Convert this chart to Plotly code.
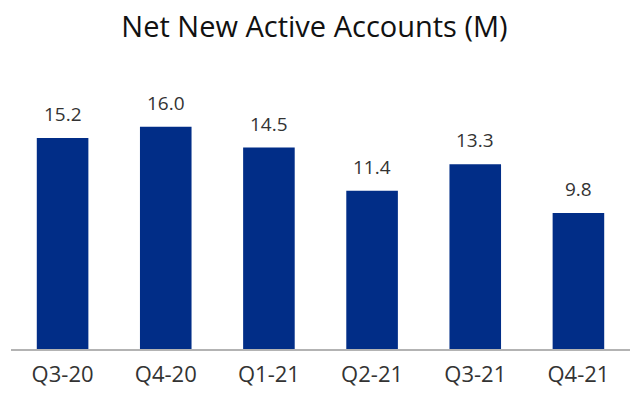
import plotly.graph_objects as go

quarters = ["Q3-20", "Q4-20", "Q1-21", "Q2-21", "Q3-21", "Q4-21"]
accounts = [15.2, 16.0, 14.5, 11.4, 13.3, 9.8]
labels = ["15.2", "16.0", "14.5", "11.4", "13.3", "9.8"]

fig = go.Figure()
fig.add_trace(go.Bar(
    x=quarters, y=accounts,
    marker=dict(color="#012d87", line=dict(width=0)),
    hoverinfo="skip",
))

for q, v, t in zip(quarters, accounts, labels):
    fig.add_annotation(x=q, y=v, text=t, showarrow=False, yanchor="bottom",
                       yshift=9, font=dict(size=19, color="#333333", family="Open Sans"))

# page body has an 8px margin, so the figure is sized to the visible area
fig.update_layout(
    width=632, height=389,
    margin=dict(l=3, r=10, t=91, b=48, autoexpand=False),
    paper_bgcolor="white", plot_bgcolor="white",
    bargap=0.5,
    showlegend=False,
    title=dict(text="Net New Active Accounts (M)", x=0.485, xanchor="center",
               xref="container", y=0.951, yanchor="middle", yref="container",
               font=dict(size=29, color="#111111", family="Open Sans", weight=500)),
    xaxis=dict(showline=True, linecolor="#b3b3b3", linewidth=2, ticks="",
               ticklabelstandoff=5, automargin=False,
               tickfont=dict(size=22, color="#333333", family="Open Sans"),
               showgrid=False, fixedrange=True),
    yaxis=dict(range=[0, 18], visible=False, showgrid=False, fixedrange=True,
               automargin=False),
)

fig.write_html("out.html")
